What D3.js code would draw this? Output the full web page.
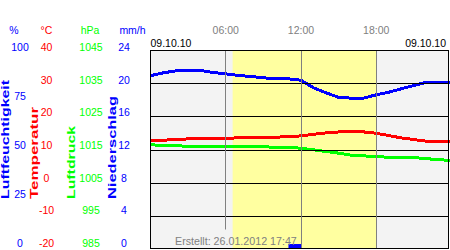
<!DOCTYPE html>
<html>
<head>
<meta charset="utf-8">
<script src="https://cdn.jsdelivr.net/npm/d3@7"></script>
<style>
  body { margin: 0; background: #fff; }
  svg { display: block; font-family: "Liberation Sans", Arial, sans-serif; }
</style>
</head>
<body>
<div id="chart"></div>
<script>
// hourly readings for 09.10.10
const hours = [0, 1, 2, 3, 4, 5, 6, 7, 8, 9, 10, 11, 12, 13, 14, 15, 16, 17, 18, 19, 20, 21, 22, 23, 24];
const humidity = [87.1, 88.5, 89.5, 89.8, 89.7, 88.7, 88, 87.2, 86.7, 86, 85.7, 85.5, 84.8, 81, 78.5, 76.2, 75.8, 75.8, 77.5, 78.8, 80.5, 82.2, 83.8, 83.9, 83.9];
const temperature = [12.7, 12.8, 13.0, 13.2, 13.3, 13.3, 13.4, 13.5, 13.5, 13.5, 13.7, 13.9, 14.1, 14.6, 15.0, 15.3, 15.3, 15.3, 14.9, 14.2, 13.5, 13.0, 12.5, 12.3, 12.3];
const pressure = [1016.5, 1016.1, 1016.1, 1016.0, 1015.8, 1015.8, 1015.8, 1015.8, 1015.8, 1015.8, 1015.7, 1015.6, 1015.4, 1014.9, 1014.4, 1013.9, 1013.3, 1013.1, 1012.8, 1012.7, 1012.7, 1012.6, 1012.2, 1012.0, 1011.6];
const precipitation = [0, 0, 0, 0, 0, 0, 0, 0, 0, 0, 0, 0.6, 0, 0, 0, 0, 0, 0, 0, 0, 0, 0, 0, 0];
const daylight = [6.55, 18.0];

const timeTicks = [6, 12, 18];
const timeLabels = ['06:00', '12:00', '18:00'];
const humTicks = [0, 25, 50, 75, 100];
const tempTicks = [-20, -10, 0, 10, 20, 30, 40];
const pressTicks = [985, 995, 1005, 1015, 1025, 1035, 1045];
const precipTicks = [0, 4, 8, 12, 16, 20, 24];
const dateLabel = '09.10.10';
const createdLabel = 'Erstellt: 26.01.2012 17:47';

const width = 450, height = 250;
const plotLeft = 150, plotTop = 50, plotRight = 448.5, plotBottom = 249;

const blue = '#0000ff', red = '#ff0000', green = '#00ff00', gray = '#808080';

const svg = d3.select('#chart').append('svg')
  .attr('width', width)
  .attr('height', height);

// scales
const x = d3.scaleLinear().domain([0, 24]).range([150.5, 451.5]);
const yHum = d3.scaleLinear().domain([0, 100]).range([plotBottom, plotTop]);
const yTemp = d3.scaleLinear().domain([-20, 40]).range([plotBottom, plotTop]);
const yPress = d3.scaleLinear().domain([985, 1045]).range([plotBottom, plotTop]);
const yPrecip = d3.scaleLinear().domain([0, 24]).range([plotBottom, plotTop]);
// tick labels sit on a slightly tighter band than the grid
const labelY = d3.scaleLinear().domain([0, 1]).range([247, 51]);

// plot background and daylight band
svg.append('rect')
  .attr('x', plotLeft).attr('y', plotTop)
  .attr('width', plotRight - plotLeft).attr('height', plotBottom - plotTop)
  .attr('fill', '#f3f3f3');

svg.append('rect')
  .attr('x', x(daylight[0])).attr('y', plotTop)
  .attr('width', x(daylight[1]) - x(daylight[0])).attr('height', plotBottom - plotTop)
  .attr('fill', '#ffffa0');

// precipitation bars
svg.append('g').selectAll('rect')
  .data(precipitation)
  .join('rect')
  .attr('x', (d, i) => x(hours[i]))
  .attr('width', (d, i) => x(hours[i + 1]) - x(hours[i]))
  .attr('y', d => yPrecip(d))
  .attr('height', d => yPrecip(0) - yPrecip(d))
  .attr('fill', blue);

// data lines
const drawLine = (values, y, color) => {
  svg.append('path')
    .datum(values)
    .attr('fill', 'none')
    .attr('stroke', color)
    .attr('stroke-width', 3)
    .attr('shape-rendering', 'crispEdges')
    .attr('d', d3.line().x((d, i) => x(hours[i])).y(d => y(d)));
};
drawLine(pressure, yPress, green);
drawLine(temperature, yTemp, red);
drawLine(humidity, yHum, blue);

// created note (measured first so the grid can stop above it)
const created = svg.append('text')
  .attr('x', 175).attr('y', 244.5)
  .attr('font-size', 10.7)
  .attr('fill', gray)
  .text(createdLabel);
const cb = created.node().getBBox();

// horizontal grid lines at temperature ticks
svg.append('g').selectAll('line')
  .data(tempTicks.slice(1, -1))
  .join('line')
  .attr('x1', plotLeft).attr('x2', plotRight)
  .attr('y1', d => Math.round(yTemp(d)) + 0.5)
  .attr('y2', d => Math.round(yTemp(d)) + 0.5)
  .attr('stroke', '#000');

// vertical time lines
svg.append('g').selectAll('line')
  .data(timeTicks)
  .join('line')
  .attr('x1', d => Math.floor(x(d)) + 0.5)
  .attr('x2', d => Math.floor(x(d)) + 0.5)
  .attr('y1', plotTop)
  .attr('y2', d => (x(d) > cb.x && x(d) < cb.x + cb.width) ? cb.y - 5 : plotBottom)
  .attr('stroke', gray);

created.raise();

// frame
svg.append('rect')
  .attr('x', plotLeft + 0.5).attr('y', plotTop + 0.5)
  .attr('width', plotRight - plotLeft - 0.5).attr('height', plotBottom - 0.5 - plotTop - 0.5)
  .attr('fill', 'none')
  .attr('stroke', '#000');

// time labels on top
svg.append('g').selectAll('text')
  .data(timeTicks)
  .join('text')
  .attr('x', d => x(d))
  .attr('y', 33.5)
  .attr('text-anchor', 'middle')
  .attr('font-size', 10.5)
  .attr('fill', gray)
  .text((d, i) => timeLabels[i]);

svg.append('text')
  .attr('x', 150.5).attr('y', 47)
  .attr('font-size', 10.5)
  .text(dateLabel);
svg.append('text')
  .attr('x', 446).attr('y', 47)
  .attr('text-anchor', 'end')
  .attr('font-size', 10.5)
  .text(dateLabel);

// left axis columns
const columns = [
  { unit: '%', ticks: humTicks, color: blue, cx: 20, ux: 14, title: 'Luftfeuchtigkeit', tx: 9, len: 119 },
  { unit: '°C', ticks: tempTicks, color: red, cx: 46.5, ux: 46.5, title: 'Temperatur', tx: 38, len: 92 },
  { unit: 'hPa', ticks: pressTicks, color: green, cx: 91, ux: 90, title: 'Luftdruck', tx: 75, len: 73 },
  { unit: 'mm/h', ticks: precipTicks, color: blue, cx: 124, ux: 132.5, title: 'Niederschlag', tx: 116, len: 103 }
];

columns.forEach(c => {
  const g = svg.append('g').attr('fill', c.color).attr('font-size', 10.5);
  g.append('text')
    .attr('x', c.ux).attr('y', 33.5)
    .attr('text-anchor', 'middle')
    .text(c.unit);
  const lo = c.ticks[0], hi = c.ticks[c.ticks.length - 1];
  g.selectAll('.tick')
    .data(c.ticks)
    .join('text')
    .attr('class', 'tick')
    .attr('x', c.cx)
    .attr('y', d => labelY((d - lo) / (hi - lo)))
    .attr('text-anchor', 'middle')
    .text(d => d);
  g.append('text')
    .attr('transform', `translate(${c.tx},199) rotate(-90)`)
    .attr('font-size', 10)
    .attr('font-weight', 'bold')
    .attr('textLength', c.len)
    .attr('lengthAdjust', 'spacingAndGlyphs')
    .text(c.title);
});
</script>
</body>
</html>
